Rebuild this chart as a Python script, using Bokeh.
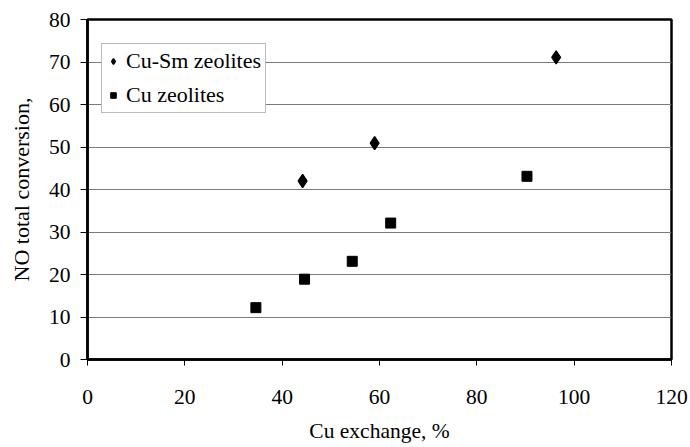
from bokeh.plotting import figure
from bokeh.models import Range1d, FixedTicker, Legend, LegendItem, LinearAxis
from bokeh.embed import file_html
from bokeh.resources import INLINE

# data
cusm_x = [44.2, 59.0, 96.3]
cusm_y = [42.0, 50.9, 71.1]
cu_x = [34.6, 44.6, 54.4, 62.3, 90.3]
cu_y = [12.2, 18.9, 23.1, 32.1, 43.1]
x_ticks = [0, 20, 40, 60, 80, 100, 120]
y_ticks = [0, 10, 20, 30, 40, 50, 60, 70, 80]
series_names = ["Cu-Sm zeolites", "Cu zeolites"]
x_title = "Cu exchange, %"
y_title = "NO total conversion,"

FONT = "'Liberation Serif', 'Times New Roman', serif"

p = figure(width=690, height=447, output_backend="svg", toolbar_location=None,
           x_range=Range1d(0, 120), y_range=Range1d(0, 80),
           min_border_left=87, min_border_right=19, min_border_top=19, min_border_bottom=88)

p.background_fill_color = "white"
p.border_fill_color = "white"
p.outline_line_color = "black"
p.outline_line_width = 2.5

p.xgrid.visible = False
p.ygrid.grid_line_color = "#7a7a7a"
p.ygrid.grid_line_width = 1
p.ygrid.ticker = FixedTicker(ticks=y_ticks)

for ax in (p.xaxis[0], p.yaxis[0]):
    ax.axis_line_color = "black"
    ax.axis_line_width = 2.5
    ax.major_tick_line_color = "black"
    ax.major_tick_line_width = 1
    ax.major_tick_in = 0
    ax.minor_tick_line_color = None
    ax.major_label_text_font = FONT
    ax.major_label_text_font_size = "21.5px"
    ax.major_label_text_color = "black"
    ax.axis_label_text_font = FONT
    ax.axis_label_text_font_size = "21.5px"
    ax.axis_label_text_font_style = "normal"
    ax.axis_label_text_color = "black"

p.xaxis.ticker = FixedTicker(ticks=x_ticks)
p.yaxis.ticker = FixedTicker(ticks=y_ticks)
p.xaxis.major_tick_out = 6
p.yaxis.major_tick_out = 7
p.xaxis.major_label_standoff = 24
p.yaxis.major_label_standoff = 10
p.xaxis.axis_label = x_title
p.xaxis.axis_label_standoff = 12

# separate title-only axis, its label centred a little below the frame middle as in the original
title_axis = LinearAxis(ticker=FixedTicker(ticks=[]), bounds=(0, 72),
                        axis_line_color=None, major_tick_line_color=None,
                        minor_tick_line_color=None, axis_label=y_title,
                        axis_label_text_font=FONT, axis_label_text_font_size="22px",
                        axis_label_text_font_style="normal", axis_label_text_color="black",
                        axis_label_standoff=12)
p.add_layout(title_axis, "left")

r1 = p.scatter(cusm_x, cusm_y, marker="diamond", size=13, line_width=1.4,
               fill_color="black", line_color="black")
r2 = p.scatter(cu_x, cu_y, marker="square", size=10,
               fill_color="black", line_color="black")

legend = Legend(items=[LegendItem(label=series_names[0], renderers=[r1]),
                       LegendItem(label=series_names[1], renderers=[r2])],
                location=(14, 246))
legend.label_text_font = FONT
legend.label_text_font_size = "22px"
legend.label_text_color = "black"
legend.border_line_color = "#777777"
legend.border_line_width = 1
legend.background_fill_color = "white"
legend.background_fill_alpha = 1
legend.padding = 4
legend.spacing = 8
legend.margin = 0
legend.glyph_width = 14
legend.glyph_height = 26
legend.label_height = 26
legend.label_standoff = 6
p.add_layout(legend, "center")

open("out.html", "w").write(file_html(p, INLINE))
